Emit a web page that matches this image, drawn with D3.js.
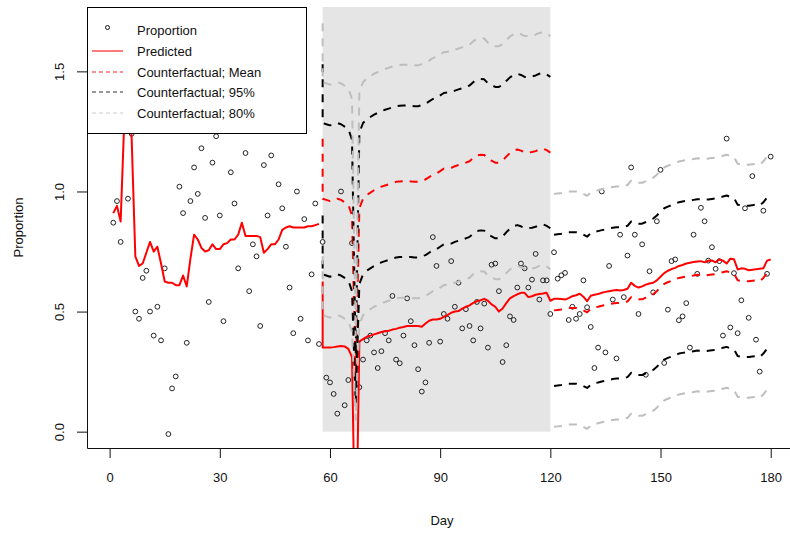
<!DOCTYPE html>
<html>
<head>
<meta charset="utf-8">
<script src="https://cdn.jsdelivr.net/npm/d3@7"></script>
<style>
  body { margin: 0; background: #fff; }
  svg { display: block; font-family: "Liberation Sans", Arial, sans-serif; }
</style>
</head>
<body>
<div id="chart"></div>
<script>
// observed proportion, day 1..180 (null = not visible)
const proportion = [
  0.87, 0.96, 0.79, null, 0.97, 1.24, 0.50, 0.47, 0.64, 0.67,
  0.50, 0.40, 0.52, 0.38, 0.68, -0.01, 0.18, 0.23, 1.02, 0.91,
  0.37, 0.96, 1.10, 0.99, 1.18, 0.89, 0.54, 1.12, 1.23, 0.90,
  0.46, null, 1.08, 0.95, 0.68, null, 1.16, 0.585, 0.78, 0.73,
  0.44, 1.11, 0.90, 1.15, null, 1.03, 0.93, 0.77, 0.60, 0.41,
  1.00, 0.47, 0.885, 0.38, 0.655, 0.95, 0.365, 0.79, 0.225, 0.205,
  0.157, 0.075, 1.00, 0.11, 0.215, 0.785, null, 0.185, 0.30, 0.38,
  0.40, 0.33, 0.265, 0.335, 0.41, 0.38, 0.565, 0.30, 0.285, 0.40,
  0.555, 0.46, 0.36, 0.26, 0.167, 0.205, 0.37, 0.81, 0.69, 0.375,
  0.49, 0.47, 0.71, 0.52, 0.62, 0.43, 0.51, 0.44, 0.38, 0.54,
  0.43, 0.533, 0.35, 0.695, 0.70, 0.585, 0.29, 0.36, 0.48, 0.465,
  0.60, 0.70, 0.68, 0.60, 0.633, 0.74, 0.55, 0.63, 0.63, 0.49,
  0.747, 0.637, 0.651, 0.661, 0.465, 0.52, 0.47, 0.49, 0.63, 0.518,
  0.436, 0.265, 0.35, 1.00, 0.33, 0.69, 0.55, 0.305, 0.82, 0.56,
  0.733, 1.10, 0.82, 0.49, 0.78, 0.237, 0.668, 0.58, 0.876, 1.09,
  0.286, 0.508, 0.71, 0.717, 0.464, 0.48, 0.535, 0.35, 0.82, 0.657,
  0.932, 0.876, 0.712, 0.768, 0.678, 0.71, 0.40, 1.22, 0.434, 0.66,
  0.41, 0.547, 0.93, 0.474, 1.064, 0.383, 0.25, 0.92, 0.657, 1.145
];

// predicted, pre-period days 1..57
const predictedPre = [
  0.91, 0.94, 0.875, 1.30, 1.45, 1.22, 0.73, 0.69, 0.70, 0.745,
  0.79, 0.75, 0.77, 0.70, 0.625, 0.62, 0.62, 0.61, 0.61, 0.65,
  0.605, 0.72, 0.82, 0.80, 0.765, 0.75, 0.755, 0.78, 0.76, 0.76,
  0.78, 0.785, 0.80, 0.80, 0.82, 0.87, 0.815, 0.815, 0.815, 0.815,
  0.81, 0.745, 0.76, 0.78, 0.78, 0.80, 0.84, 0.85, 0.855, 0.85,
  0.85, 0.85, 0.85, 0.855, 0.855, 0.86, 0.865
];

// predicted, day 58 (twice) then 59..180
const predictedPost = [
  0.625, 0.35,
  0.35, 0.35, 0.352, 0.355, 0.357, 0.355, 0.345, 0.31, -0.6, 0.375,
  0.385, 0.395, 0.40, 0.405, 0.41, 0.415, 0.418, 0.42, 0.425, 0.428,
  0.433, 0.436, 0.44, 0.44, 0.44, 0.44, 0.437, 0.45, 0.462, 0.467,
  0.467, 0.47, 0.478, 0.485, 0.495, 0.50, 0.502, 0.512, 0.52, 0.526,
  0.536, 0.543, 0.547, 0.553, 0.545, 0.53, 0.52, 0.50, 0.513, 0.535,
  0.555, 0.564, 0.572, 0.578, 0.578, 0.56, 0.564, 0.57, 0.573, 0.575,
  0.578, 0.545,
  0.553, 0.553, 0.552, 0.55, 0.556, 0.564, 0.568, 0.574, 0.562, 0.543,
  0.566, 0.57, 0.573, 0.578, 0.582, 0.585, 0.588, 0.59, 0.588, 0.59,
  0.595, 0.62, 0.607, 0.60, 0.605, 0.612, 0.617, 0.62, 0.63, 0.645,
  0.66, 0.67, 0.677, 0.682, 0.69, 0.694, 0.70, 0.703, 0.706, 0.708,
  0.71, 0.705, 0.712, 0.713, 0.705, 0.717, 0.712, 0.70, 0.72, 0.718,
  0.675, 0.68, 0.678, 0.672, 0.674, 0.676, 0.678, 0.68, 0.712, 0.717
];

// counterfactual in the shaded period: day 58 (twice) then 59..120
const cfMeanA = [
  1.22, 0.97,
  0.965, 0.96, 0.965, 0.97, 0.965, 0.955, 0.945, 0.90, 0.22, 0.93,
  0.97, 0.985, 0.995, 1.005, 1.012, 1.02, 1.025, 1.03, 1.035, 1.04,
  1.042, 1.043, 1.043, 1.042, 1.04, 1.04, 1.045, 1.05, 1.06, 1.07,
  1.075, 1.085, 1.095, 1.097, 1.098, 1.105, 1.11, 1.115, 1.12, 1.126,
  1.14, 1.15, 1.153, 1.152, 1.135, 1.128, 1.12, 1.12, 1.128, 1.145,
  1.16, 1.17, 1.175, 1.17, 1.162, 1.162, 1.164, 1.168, 1.175, 1.178,
  1.172, 1.162
];
const cfUp95A = [
  1.53, 1.285,
  1.28, 1.275, 1.28, 1.285, 1.28, 1.27, 1.26, 1.215, 0.32, 1.245,
  1.285, 1.30, 1.31, 1.32, 1.327, 1.335, 1.34, 1.345, 1.35, 1.355,
  1.357, 1.358, 1.358, 1.357, 1.355, 1.355, 1.36, 1.365, 1.375, 1.385,
  1.39, 1.40, 1.41, 1.412, 1.413, 1.42, 1.425, 1.43, 1.435, 1.441,
  1.455, 1.465, 1.468, 1.467, 1.45, 1.443, 1.435, 1.435, 1.443, 1.46,
  1.475, 1.485, 1.49, 1.485, 1.477, 1.477, 1.479, 1.483, 1.49, 1.493,
  1.487, 1.477
];
const cfLo95A = [
  0.90, 0.655,
  0.65, 0.645, 0.65, 0.655, 0.65, 0.64, 0.63, 0.585, 0.12, 0.615,
  0.655, 0.67, 0.68, 0.69, 0.697, 0.705, 0.71, 0.715, 0.72, 0.725,
  0.727, 0.728, 0.728, 0.727, 0.725, 0.725, 0.73, 0.735, 0.745, 0.755,
  0.76, 0.77, 0.78, 0.782, 0.783, 0.79, 0.795, 0.80, 0.805, 0.811,
  0.825, 0.835, 0.838, 0.837, 0.82, 0.813, 0.805, 0.805, 0.813, 0.83,
  0.845, 0.855, 0.86, 0.855, 0.847, 0.847, 0.849, 0.853, 0.86, 0.863,
  0.857, 0.847
];
const cfUp80A = [
  1.70, 1.455,
  1.45, 1.445, 1.45, 1.455, 1.45, 1.44, 1.43, 1.385, 0.40, 1.415,
  1.455, 1.47, 1.48, 1.49, 1.497, 1.505, 1.51, 1.515, 1.52, 1.525,
  1.527, 1.528, 1.528, 1.527, 1.525, 1.525, 1.53, 1.535, 1.545, 1.555,
  1.56, 1.57, 1.58, 1.582, 1.583, 1.59, 1.595, 1.60, 1.605, 1.611,
  1.625, 1.635, 1.638, 1.637, 1.62, 1.613, 1.605, 1.605, 1.613, 1.63,
  1.645, 1.655, 1.66, 1.655, 1.647, 1.647, 1.649, 1.653, 1.66, 1.663,
  1.657, 1.647
];
const cfLo80A = [
  0.73, 0.485,
  0.48, 0.475, 0.48, 0.485, 0.48, 0.47, 0.46, 0.415, 0.05, 0.445,
  0.485, 0.50, 0.51, 0.52, 0.527, 0.535, 0.54, 0.545, 0.55, 0.555,
  0.557, 0.558, 0.558, 0.557, 0.555, 0.555, 0.56, 0.565, 0.575, 0.585,
  0.59, 0.60, 0.61, 0.612, 0.613, 0.62, 0.625, 0.63, 0.635, 0.641,
  0.655, 0.665, 0.668, 0.667, 0.65, 0.643, 0.635, 0.635, 0.643, 0.66,
  0.675, 0.685, 0.69, 0.685, 0.677, 0.677, 0.679, 0.683, 0.69, 0.693,
  0.687, 0.677
];

// counterfactual after the shaded period: days 121..180
const cfMeanB = [
  0.505, 0.507, 0.509, 0.512, 0.515, 0.515, 0.515, 0.51, 0.505, 0.497,
  0.51, 0.517, 0.52, 0.524, 0.527, 0.531, 0.534, 0.536, 0.536, 0.538,
  0.542, 0.56, 0.555, 0.551, 0.551, 0.558, 0.566, 0.572, 0.585, 0.602,
  0.615, 0.622, 0.628, 0.634, 0.64, 0.643, 0.646, 0.647, 0.65, 0.653,
  0.652, 0.65, 0.652, 0.654, 0.656, 0.66, 0.664, 0.668, 0.662, 0.658,
  0.63, 0.627, 0.626, 0.626, 0.628, 0.63, 0.626, 0.64, 0.66, 0.668
];
const cfUp95B = [
  0.82, 0.822, 0.824, 0.827, 0.83, 0.83, 0.83, 0.825, 0.82, 0.812,
  0.825, 0.832, 0.835, 0.839, 0.842, 0.846, 0.849, 0.851, 0.851, 0.853,
  0.857, 0.875, 0.87, 0.866, 0.866, 0.873, 0.881, 0.887, 0.90, 0.917,
  0.93, 0.937, 0.943, 0.949, 0.955, 0.958, 0.961, 0.962, 0.965, 0.968,
  0.967, 0.965, 0.967, 0.969, 0.971, 0.975, 0.979, 0.983, 0.977, 0.973,
  0.945, 0.942, 0.941, 0.941, 0.943, 0.945, 0.941, 0.955, 0.975, 0.983
];
const cfLo95B = [
  0.19, 0.192, 0.194, 0.197, 0.20, 0.20, 0.20, 0.195, 0.19, 0.182,
  0.195, 0.202, 0.205, 0.209, 0.212, 0.216, 0.219, 0.221, 0.221, 0.223,
  0.227, 0.245, 0.24, 0.236, 0.236, 0.243, 0.251, 0.257, 0.27, 0.287,
  0.30, 0.307, 0.313, 0.319, 0.325, 0.328, 0.331, 0.332, 0.335, 0.338,
  0.337, 0.335, 0.337, 0.339, 0.341, 0.345, 0.349, 0.353, 0.347, 0.343,
  0.315, 0.312, 0.311, 0.311, 0.313, 0.315, 0.311, 0.325, 0.345, 0.353
];
const cfUp80B = [
  0.99, 0.992, 0.994, 0.997, 1.0, 1.0, 1.0, 0.995, 0.99, 0.982,
  0.995, 1.002, 1.005, 1.009, 1.012, 1.016, 1.019, 1.021, 1.021, 1.023,
  1.027, 1.045, 1.04, 1.036, 1.036, 1.043, 1.051, 1.057, 1.07, 1.087,
  1.10, 1.107, 1.113, 1.119, 1.125, 1.128, 1.131, 1.132, 1.135, 1.138,
  1.137, 1.135, 1.137, 1.139, 1.141, 1.145, 1.149, 1.153, 1.147, 1.143,
  1.115, 1.112, 1.111, 1.111, 1.113, 1.115, 1.111, 1.125, 1.145, 1.153
];
const cfLo80B = [
  0.02, 0.022, 0.024, 0.027, 0.03, 0.03, 0.03, 0.025, 0.02, 0.012,
  0.025, 0.032, 0.035, 0.039, 0.042, 0.046, 0.049, 0.051, 0.051, 0.053,
  0.057, 0.075, 0.07, 0.066, 0.066, 0.073, 0.081, 0.087, 0.10, 0.117,
  0.13, 0.137, 0.143, 0.149, 0.155, 0.158, 0.161, 0.162, 0.165, 0.168,
  0.167, 0.165, 0.167, 0.169, 0.171, 0.175, 0.179, 0.183, 0.177, 0.173,
  0.145, 0.142, 0.141, 0.141, 0.143, 0.145, 0.141, 0.155, 0.175, 0.183
];

const xTicks = [0, 30, 60, 90, 120, 150, 180];
const yTicks = [0, 0.5, 1.0, 1.5];
const shadedPeriod = [58, 120];
const legendLabels = ["Proportion", "Predicted", "Counterfactual; Mean", "Counterfactual; 95%", "Counterfactual; 80%"];

// day indexes
const obsDays = d3.range(1, 181);
const preDays = d3.range(1, 58);
const postDays = [58, ...d3.range(58, 181)];
const periodADays = [58, ...d3.range(58, 121)];
const periodBDays = d3.range(121, 181);

const width = 790, height = 533;
const plot = { left: 87, right: 797, top: 7, bottom: 448 };

const svg = d3.select("#chart").append("svg")
    .attr("width", width)
    .attr("height", height);

// R style: usr extended 4% past the data range
const x = d3.scaleLinear().domain([-6.16, 187.16]).range([plot.left, plot.right]);
const y = d3.scaleLinear().domain([-0.068, 1.768]).range([plot.bottom, plot.top]);

svg.append("clipPath").attr("id", "clip")
    .append("rect")
    .attr("x", plot.left).attr("y", plot.top)
    .attr("width", plot.right - plot.left).attr("height", plot.bottom - plot.top);

const g = svg.append("g").attr("clip-path", "url(#clip)");

// shaded intervention period
g.append("rect")
    .attr("x", x(shadedPeriod[0]))
    .attr("y", y.range()[1])
    .attr("width", x(shadedPeriod[1]) - x(shadedPeriod[0]))
    .attr("height", y(0) - y.range()[1])
    .attr("fill", "#e5e5e5");

// observed points
g.selectAll(".pt")
    .data(obsDays.map((d, i) => [d, proportion[i]]).filter(d => d[1] != null))
    .enter()
    .append("circle")
    .attr("class", "pt")
    .attr("cx", d => x(d[0]))
    .attr("cy", d => y(d[1]))
    .attr("r", 2.4)
    .attr("fill", "none")
    .attr("stroke", "#222")
    .attr("stroke-width", 1);

const line = d3.line().x(d => x(d[0])).y(d => y(d[1]));

function drawLine(days, values, color, dash) {
    g.append("path")
        .datum(days.map((d, i) => [d, values[i]]))
        .attr("d", line)
        .attr("fill", "none")
        .attr("stroke", color)
        .attr("stroke-width", 2)
        .attr("stroke-dasharray", dash)
        .attr("stroke-linejoin", "round");
}

drawLine(preDays, predictedPre, "#ff0000", null);
drawLine(postDays, predictedPost, "#ff0000", null);
drawLine(periodADays, cfMeanA, "#ff0000", "8,7");
drawLine(periodBDays, cfMeanB, "#ff0000", "8,7");
drawLine(periodADays, cfUp95A, "#000000", "8,7");
drawLine(periodADays, cfLo95A, "#000000", "8,7");
drawLine(periodBDays, cfUp95B, "#000000", "8,7");
drawLine(periodBDays, cfLo95B, "#000000", "8,7");
drawLine(periodADays, cfUp80A, "#bebebe", "8,7");
drawLine(periodADays, cfLo80A, "#bebebe", "8,7");
drawLine(periodBDays, cfUp80B, "#bebebe", "8,7");
drawLine(periodBDays, cfLo80B, "#bebebe", "8,7");

// axes
const xAxis = svg.append("g")
    .attr("transform", `translate(0, ${plot.bottom})`)
    .call(d3.axisBottom(x).tickValues(xTicks).tickSize(10).tickSizeOuter(0).tickPadding(15));

const yAxis = svg.append("g")
    .attr("transform", `translate(${plot.left}, 0)`)
    .call(d3.axisLeft(y).tickValues(yTicks).tickFormat(d3.format(".1f")).tickSize(10).tickSizeOuter(0));

yAxis.selectAll(".tick text")
    .attr("x", null).attr("dy", null)
    .attr("text-anchor", "middle")
    .attr("transform", "translate(-23, 0) rotate(-90)");

[xAxis, yAxis].forEach(a => {
    a.selectAll("text").style("font-size", "13px").style("font-family", "Liberation Sans, Arial, sans-serif").attr("fill", "#111");
    a.selectAll("line, path").attr("stroke", "#111");
});

svg.append("text")
    .attr("x", (plot.left + plot.right) / 2)
    .attr("y", 525)
    .attr("text-anchor", "middle")
    .style("font-size", "13px")
    .attr("fill", "#111")
    .text("Day");

svg.append("text")
    .attr("transform", `translate(23, ${(plot.top + plot.bottom) / 2}) rotate(-90)`)
    .attr("text-anchor", "middle")
    .style("font-size", "13px")
    .attr("fill", "#111")
    .text("Proportion");

// legend
const legend = svg.append("g");
legend.append("rect")
    .attr("x", 87.5).attr("y", 7.5)
    .attr("width", 219).attr("height", 126)
    .attr("fill", "#fff")
    .attr("stroke", "#000");

const rowY = [30.5, 51, 72, 92, 113];
const legendStyles = [
    null,
    { color: "#ff2020", dash: null },
    { color: "#ff2020", dash: "4,3" },
    { color: "#333333", dash: "4,3" },
    { color: "#cccccc", dash: "4,3" }
];

legendLabels.forEach((label, i) => {
    if (i === 0) {
        legend.append("circle")
            .attr("cx", 107.5).attr("cy", rowY[i] - 3)
            .attr("r", 2)
            .attr("fill", "none")
            .attr("stroke", "#111");
    } else {
        legend.append("line")
            .attr("x1", 92).attr("x2", 123)
            .attr("y1", rowY[i]).attr("y2", rowY[i])
            .attr("stroke", legendStyles[i].color)
            .attr("stroke-width", 1.2)
            .attr("stroke-dasharray", legendStyles[i].dash);
    }
    legend.append("text")
        .attr("x", 137)
        .attr("y", rowY[i] + 4.5)
        .style("font-size", "13px")
        .attr("fill", "#111")
        .text(label);
});
</script>
</body>
</html>
